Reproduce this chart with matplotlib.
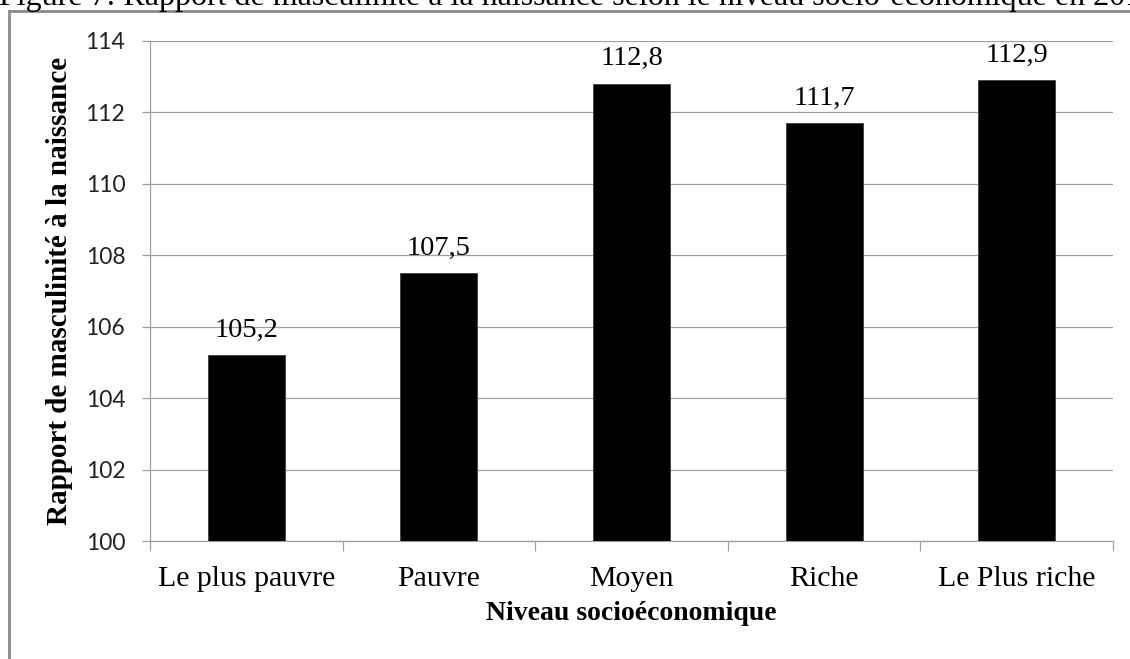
import matplotlib.pyplot as plt
from matplotlib.lines import Line2D

# data
categories = ["Le plus pauvre", "Pauvre", "Moyen", "Riche", "Le Plus riche"]
values = [105.2, 107.5, 112.8, 111.7, 112.9]
value_labels = ["105,2", "107,5", "112,8", "111,7", "112,9"]
yticks = [100, 102, 104, 106, 108, 110, 112, 114]

title = "Figure 7: Rapport de masculinité à la naissance selon le niveau socio-économique en 2010"
xlabel = "Niveau socioéconomique"
ylabel = "Rapport de masculinité à la naissance"

W, H = 1130, 659
fig = plt.figure(figsize=(W / 100, H / 100), dpi=100)
fig.patch.set_facecolor("white")

# axes placed in pixel terms
left, right, top, bottom = 150, 1113, 40.7, 541.3
ax = fig.add_axes([left / W, 1 - bottom / H, (right - left) / W, (bottom - top) / H])

serif = "Liberation Serif"
grey = "#a0a0a0"

x = list(range(len(categories)))
ax.bar(x, values, width=0.4, color="black", edgecolor="#404040", linewidth=0.6, zorder=3)

ax.set_ylim(100, 114)
ax.set_xlim(-0.5, len(categories) - 0.5)
ax.set_yticks(yticks)
ax.set_yticklabels([str(t) for t in yticks], fontfamily="Lato", fontsize=16.5, color="#222222")
ax.yaxis.grid(True, color=grey, linewidth=0.9, zorder=0)
ax.set_axisbelow(True)

# category labels at centers, tick marks at boundaries
ax.set_xticks(x)
ax.set_xticklabels(categories, fontfamily=serif, fontsize=21.5)
ax.tick_params(axis="x", which="major", length=0, pad=18)
ax.set_xticks([i - 0.5 for i in range(len(categories) + 1)], minor=True)
ax.tick_params(axis="x", which="minor", length=7.5, width=0.9, color=grey, direction="out")
ax.tick_params(axis="y", length=5.8, width=0.9, color=grey, pad=12)

for side in ["top", "right"]:
    ax.spines[side].set_visible(False)
for side in ["left", "bottom"]:
    ax.spines[side].set_color(grey)
    ax.spines[side].set_linewidth(0.9)

for xi, v, lab in zip(x, values, value_labels):
    ax.annotate(lab, (xi, v), xytext=(0, 9), textcoords="offset points",
                ha="center", va="bottom", fontfamily=serif, fontsize=20.5)

ax.set_xlabel(xlabel, fontfamily=serif, fontsize=20, fontweight="bold", labelpad=6)
ax.set_ylabel(ylabel, fontfamily=serif, fontsize=21, fontweight="bold", labelpad=9)

# outer frame (only left and top visible in the crop)
frame_c = "#8a8a8a"
fig.add_artist(Line2D([8.5 / W, 8.5 / W], [0, 1 - 10.5 / H], transform=fig.transFigure,
                      color=frame_c, linewidth=2))
fig.add_artist(Line2D([8.5 / W, 1], [1 - 10.5 / H, 1 - 10.5 / H], transform=fig.transFigure,
                      color=frame_c, linewidth=2))

# title cut off at the top of the image
fig.text(-0.001, 1 - 5.5 / H, title, ha="left", va="baseline", fontfamily=serif, fontsize=23)

fig.savefig("out.png", dpi=100)
